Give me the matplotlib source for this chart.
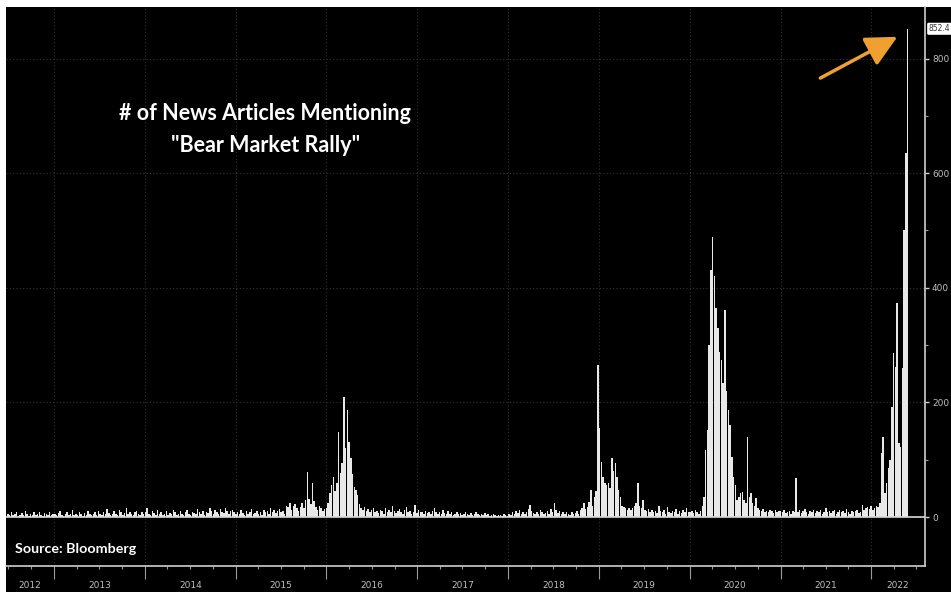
import numpy as np
import pandas as pd
import matplotlib
matplotlib.use('Agg')
import matplotlib.pyplot as plt
import matplotlib.dates as mdates
import matplotlib.transforms as mtransforms
from matplotlib.patches import Rectangle

# weekly counts of news articles mentioning "bear market rally"
counts_2012 = [6, 4, 9, 3, 5, 8, 2, 4, 7, 3, 10, 5, 2, 6, 4, 8, 3, 5, 9, 4, 2, 7, 5, 3, 8, 4, 6]
counts_2013 = [5, 3, 7, 10, 4, 2, 6, 9, 3, 5, 12, 4, 6, 3, 8, 5, 2, 7, 4, 10, 6, 3, 5, 8, 4, 11,
               6, 3, 9, 5, 14, 7, 4, 6, 10, 5, 3, 12, 8, 4, 7, 15, 6, 9, 5, 3, 8, 11, 6, 4, 9, 5]
counts_2014 = [8, 16, 6, 4, 10, 7, 3, 12, 5, 9, 4, 6, 11, 3, 7, 5, 13, 8, 4, 6, 10, 5, 3, 8, 12, 6,
               4, 9, 7, 5, 14, 8, 6, 11, 4, 9, 7, 15, 10, 6, 12, 8, 5, 14, 9, 7, 16, 11, 6, 10, 13, 8]
counts_2015 = [6, 9, 5, 12, 7, 4, 10, 6, 8, 14, 5, 7, 11, 6, 9, 4, 13, 8, 10, 6, 15, 9, 12, 7, 10, 14,
               8, 11, 6, 20, 17, 24, 12, 19, 22, 15, 10, 18, 25, 16, 30, 78, 32, 22, 60, 28, 18, 12, 20, 15, 10, 14]
counts_2016 = [15, 25, 42, 55, 70, 45, 60, 148, 77, 95, 209, 120, 187, 131, 103, 75, 52, 47, 38, 22,
               15, 12, 18, 10, 14, 8, 12, 16, 9, 11, 7, 13, 10, 6, 15, 9, 12, 8, 20, 11, 7, 10, 14, 9,
               6, 12, 18, 8, 10, 5, 9, 21, 7]
counts_2017 = [12, 9, 8, 6, 10, 7, 9, 5, 11, 16, 8, 6, 9, 5, 12, 7, 6, 10, 5, 8, 4, 6, 9, 5, 7, 4,
               6, 8, 5, 3, 7, 4, 6, 9, 5, 3, 6, 4, 7, 3, 5, 2, 4, 6, 3, 2, 4, 3, 2, 5, 3, 2]
counts_2018 = [6, 4, 8, 5, 10, 7, 12, 6, 9, 5, 8, 14, 21, 10, 7, 5, 9, 6, 12, 8, 5, 7, 10, 6, 14, 9,
               24, 12, 7, 10, 6, 8, 5, 9, 6, 4, 8, 5, 7, 10, 6, 12, 15, 24, 14, 18, 26, 47, 20, 35, 45, 265]
counts_2019 = [155, 96, 70, 60, 55, 60, 50, 103, 80, 94, 70, 47, 35, 20, 17, 15, 12, 15, 12, 15, 20, 25,
               60, 20, 15, 30, 12, 10, 14, 8, 12, 9, 11, 7, 19, 10, 8, 13, 6, 17, 9, 7, 11, 8, 14, 6, 10, 7, 12, 9, 15, 8]
counts_2020 = [8, 10, 7, 12, 9, 6, 10, 20, 35, 117, 152, 300, 431, 489, 420, 365, 330, 288, 274, 234,
               361, 220, 187, 160, 105, 70, 55, 30, 35, 42, 44, 30, 25, 140, 35, 42, 25, 20, 33, 15,
               12, 10, 14, 9, 11, 8, 12, 10, 7, 13, 9, 11]
counts_2021 = [10, 8, 12, 7, 9, 11, 6, 10, 8, 68, 9, 12, 7, 10, 14, 8, 6, 11, 9, 13, 7, 10, 8, 12, 6, 9,
               15, 8, 11, 7, 10, 13, 6, 9, 12, 8, 10, 7, 14, 9, 6, 11, 8, 10, 13, 7, 9, 21, 12, 15, 18, 14, 20]
counts_2022 = [12, 15, 20, 18, 25, 112, 140, 42, 60, 85, 100, 192, 286, 262, 373, 129, 122, 260, 500, 635, 852]

counts = (counts_2012 + counts_2013 + counts_2014 + counts_2015 + counts_2016 + counts_2017
          + counts_2018 + counts_2019 + counts_2020 + counts_2021 + counts_2022)
weeks = pd.date_range('2012-06-29', periods=len(counts), freq='7D')
years = list(range(2012, 2023))
y_ticks = [0, 200, 400, 600, 800]
last_label = '852.4'

W, H = 951, 592
fig = plt.figure(figsize=(W / 100, H / 100), dpi=100)
fig.patch.set_facecolor('white')
fig.patches.append(Rectangle((6 / W, 0), 1, 1 - 7 / H, transform=fig.transFigure,
                             facecolor='black', edgecolor='none', zorder=-5))

ax = fig.add_axes([6 / W, 1 - 566 / H, (925 - 6) / W, (566 - 7) / H])
ax.set_zorder(2)
ax.set_facecolor('black')

ax.bar(weeks, counts, width=6, color='#e8e8e8', edgecolor='none', zorder=3)
ax.axhline(0, color='#d8d8d8', lw=1.2, zorder=4)

ax.set_xlim(pd.Timestamp('2012-06-21'), pd.Timestamp('2022-08-05'))
ax.set_ylim(-85.5, 890)

# axes / ticks
ax.yaxis.tick_right()
ax.set_yticks(y_ticks)
ax.set_yticks([100, 300, 500, 700], minor=True)
ax.tick_params(axis='y', which='major', colors='#d0d0d0', labelcolor='#bdbdbd',
               labelsize=6.5, length=3, width=1, pad=2)
ax.tick_params(axis='y', which='minor', colors='#9a9a9a', length=2, width=0.8)
ax.xaxis.set_major_locator(mdates.YearLocator())
ax.xaxis.set_minor_locator(mdates.MonthLocator(bymonth=[4, 7, 10]))
ax.xaxis.set_major_formatter(plt.NullFormatter())
ax.tick_params(axis='x', which='major', colors='#9a9a9a', length=9, width=0.8)
ax.tick_params(axis='x', which='minor', colors='#9a9a9a', length=2, width=0.8)

for s in ['left', 'top']:
    ax.spines[s].set_visible(False)
for s in ['right', 'bottom']:
    ax.spines[s].set_color('#cfcfcf')
    ax.spines[s].set_linewidth(1.2)

ax.grid(True, which='major', color='#333333', linestyle=(0, (1, 2)), lw=0.8, zorder=1)

# year labels centred in the visible part of each year
x0, x1 = ax.get_xlim()
trans = mtransforms.blended_transform_factory(ax.transData, ax.transAxes)
for yr in years:
    a = max(mdates.date2num(pd.Timestamp(f'{yr}-01-01')), x0)
    b = min(mdates.date2num(pd.Timestamp(f'{yr + 1}-01-01')), x1)
    ax.text((a + b) / 2, -0.034, str(yr), transform=trans, ha='center', va='center',
            fontsize=6.5, color='#bdbdbd', clip_on=False)

# titles
ax.text(0.282, 0.81, '# of News Articles Mentioning', transform=ax.transAxes, ha='center',
        va='center', fontsize=15.5, fontweight='bold', color='white', family=['Lato', 'DejaVu Sans'])
ax.text(0.282, 0.752, '"Bear Market Rally"', transform=ax.transAxes, ha='center',
        va='center', fontsize=15.5, fontweight='bold', color='white', family=['Lato', 'DejaVu Sans'])
ax.text(0.0098, 0.030, 'Source: Bloomberg', transform=ax.transAxes, ha='left', va='center',
        fontsize=10.3, fontweight='bold', color='white', family=['Lato', 'DejaVu Sans'])

# last value tag
tag_trans = mtransforms.blended_transform_factory(ax.transAxes, ax.transData)
ax.text(1.004, counts[-1], last_label, transform=tag_trans, ha='left', va='center',
        fontsize=5.5, color='#333333', clip_on=False,
        bbox=dict(boxstyle='round,pad=0.2', facecolor='white', edgecolor='none'))

# orange arrow
ax.annotate('', xy=(pd.Timestamp('2022-04-16'), 838), xytext=(pd.Timestamp('2021-06-10'), 766),
            arrowprops=dict(arrowstyle='-|>,head_length=1.0,head_width=0.5', mutation_scale=19,
                            color='#f0a030', lw=2.5, shrinkA=0, shrinkB=0), zorder=6)

fig.savefig('out.png', dpi=100, facecolor=fig.get_facecolor())
